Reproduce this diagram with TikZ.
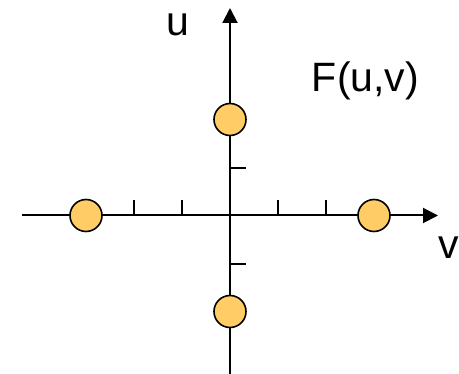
\documentclass[tikz,border=0pt]{standalone}
\usepackage{fontspec}
\setmainfont{Liberation Sans}
\usetikzlibrary{arrows.meta}
\definecolor{dotfill}{HTML}{FFCC66}
\begin{document}
\begin{tikzpicture}[x=1pt,y=-1pt,
  axis/.style={line width=2pt,-{Triangle[length=15pt,width=15pt]}},
  tickline/.style={line width=2pt},
  dot/.style={circle,draw=black,line width=1.6pt,fill=dotfill,minimum size=32pt,inner sep=0pt},
  lbl/.style={font=\fontsize{41}{49}\selectfont,anchor=base,inner sep=0pt}]
\useasboundingbox (0,0) rectangle (459,374);
\coordinate (xl) at (22,215.5);
\coordinate (xr) at (438,215.5);
\coordinate (yb) at (230,374);
\coordinate (yt) at (230,8);
\draw[axis] (xl) -- (xr);
\draw[axis] (yb) -- (yt);
\foreach \x/\n in {134/a,181.7/b,277.7/c,325.7/d}{
  \coordinate (t\n) at (\x,215.5);
  \draw[tickline] (t\n) -- ++(0,-15.5);
}
\foreach \y/\n in {167.7/e,263.7/f}{
  \coordinate (t\n) at (230,\y);
  \draw[tickline] (t\n) -- ++(16,0);
}
\node[dot] (p1) at (86,215.5) {};
\node[dot] (p2) at (374,215.5) {};
\node[dot] (p3) at (230,119.5) {};
\node[dot] (p4) at (230,311.5) {};
\node[lbl] (lu) at (178,36) {u};
\node[lbl] (lf) at (365.5,91.7) {F(u,v)};
\node[lbl] (lv) at (449,259) {v};
\end{tikzpicture}
\end{document}
